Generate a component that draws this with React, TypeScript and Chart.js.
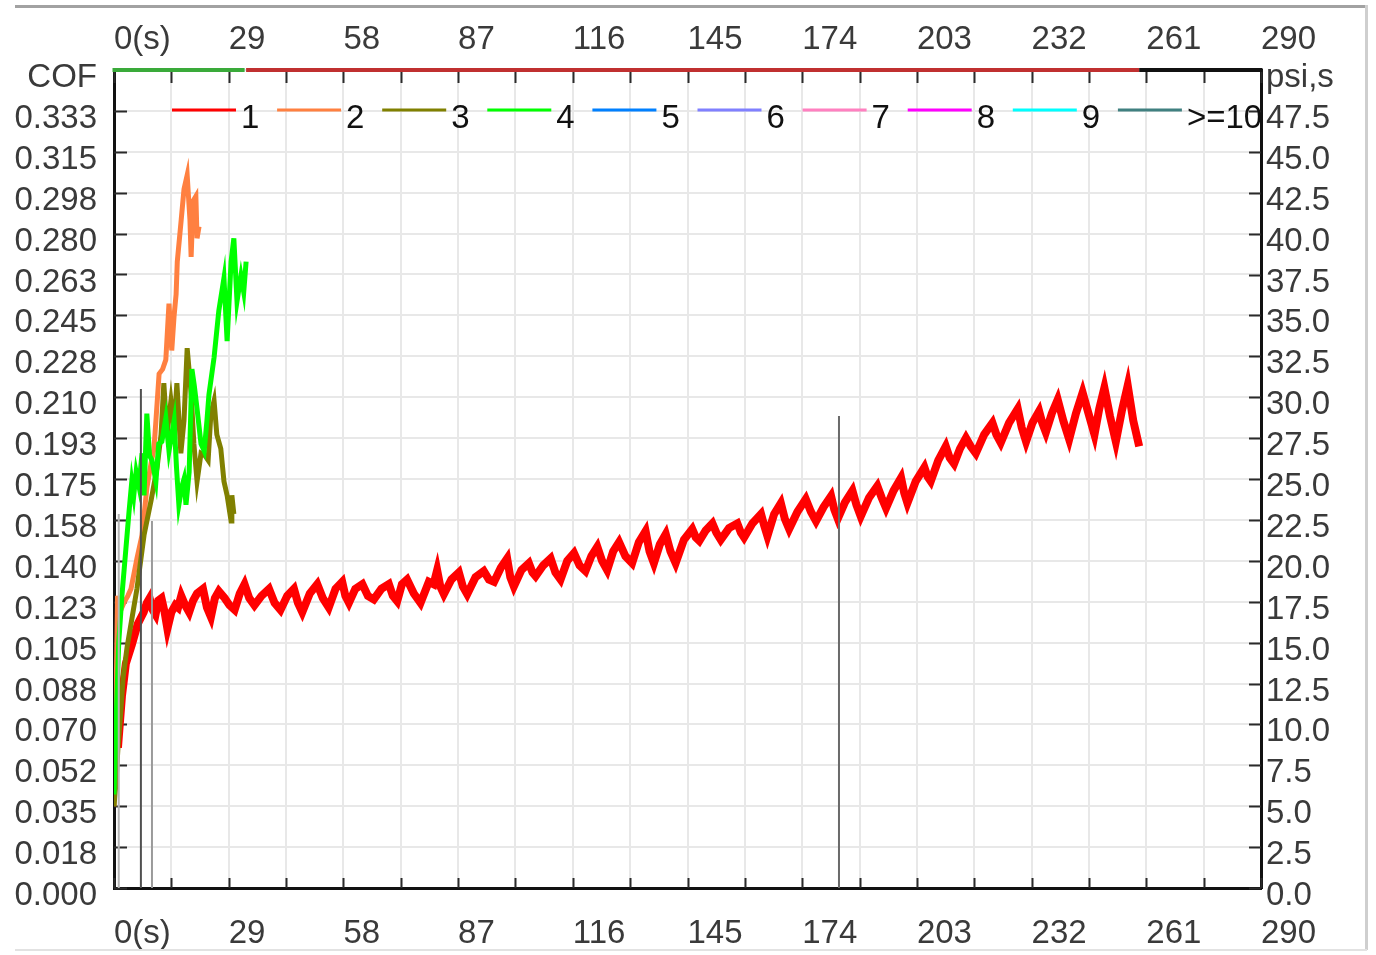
import { useEffect, useRef } from 'react';
import { Chart, registerables } from 'chart.js';

Chart.register(...registerables);

// ---------- axis tick labels ----------
const xTickLabels = ['0(s)', '', '29', '', '58', '', '87', '', '116', '', '145', '', '174', '', '203', '', '232', '', '261', '', '290'];
const xStep = 14.5;
const cofTickLabels = ['0.000', '0.018', '0.035', '0.052', '0.070', '0.088', '0.105', '0.123', '0.140', '0.158', '0.175', '0.193', '0.210', '0.228', '0.245', '0.263', '0.280', '0.298', '0.315', '0.333', 'COF'];
const cofStep = 0.0175;
const psiTickLabels = ['0.0', '2.5', '5.0', '7.5', '10.0', '12.5', '15.0', '17.5', '20.0', '22.5', '25.0', '27.5', '30.0', '32.5', '35.0', '37.5', '40.0', '42.5', '45.0', '47.5', 'psi,s'];
const psiStep = 2.5;

// ---------- legend ----------
const legendLabels = ['1', '2', '3', '4', '5', '6', '7', '8', '9', '>=10'];
const legendColors = ['#ff0000', '#ff8040', '#808000', '#00ff00', '#0080ff', '#8080ff', '#ff80c0', '#ff00ff', '#00ffff', '#408080'];

// ---------- series 1 (red) ----------
const s1Time = [1.0, 2.0, 3.0, 4.5, 6.0, 7.5, 8.3, 9.0, 9.8, 10.5, 11.2, 12.0, 12.8, 13.5, 14.5, 15.5, 16.2, 17.0, 18.0, 19.0, 20.0, 21.0, 22.5, 23.5, 24.5, 25.5, 26.5, 28.0, 29.2, 30.5, 31.8, 33.0, 34.2, 35.5, 37.3, 39.2, 40.6, 42.1, 43.8, 45.5, 46.5, 47.6, 49.5, 51.4, 52.8, 54.3, 56.0, 57.7, 58.5, 59.4, 61.0, 62.8, 64.2, 65.7, 67.6, 69.5, 70.5, 71.6, 72.8, 74.1, 75.8, 77.5, 79.6, 80.8, 81.7, 82.5, 83.4, 85.3, 87.2, 88.2, 89.3, 91.4, 93.5, 94.8, 96.1, 97.8, 99.4, 100.2, 101.1, 103.0, 104.9, 105.8, 106.6, 108.5, 110.4, 111.6, 112.9, 114.6, 116.3, 117.7, 119.2, 120.7, 122.2, 123.4, 124.7, 126.2, 127.7, 129.3, 131.0, 132.7, 134.4, 135.4, 136.5, 138.0, 139.5, 140.7, 142.0, 144.1, 146.2, 147.1, 148.0, 149.6, 151.3, 152.3, 153.4, 155.5, 157.6, 158.5, 159.3, 161.4, 163.6, 164.4, 165.2, 166.9, 168.6, 169.6, 170.7, 172.8, 174.9, 176.2, 177.5, 179.4, 181.3, 182.1, 183.0, 184.8, 186.7, 187.7, 188.8, 190.9, 193.0, 194.1, 195.2, 197.1, 199.0, 199.8, 200.6, 202.7, 204.9, 205.7, 206.5, 208.4, 210.3, 211.3, 212.4, 213.9, 215.4, 216.6, 217.9, 220.0, 222.1, 223.1, 224.2, 226.3, 228.5, 229.5, 230.6, 232.2, 233.9, 234.7, 235.6, 237.1, 238.6, 240.0, 241.5, 243.2, 244.9, 246.4, 247.9, 249.1, 250.4, 251.8, 253.3, 254.8, 256.3, 257.7, 259.2];
const s1Cof = [0.060, 0.082, 0.096, 0.104, 0.113, 0.118, 0.122, 0.124, 0.119, 0.117, 0.123, 0.124, 0.118, 0.111, 0.118, 0.121, 0.120, 0.125, 0.121, 0.118, 0.123, 0.126, 0.128, 0.120, 0.116, 0.124, 0.127, 0.124, 0.121, 0.119, 0.126, 0.130, 0.124, 0.121, 0.125, 0.128, 0.122, 0.119, 0.125, 0.128, 0.122, 0.118, 0.126, 0.130, 0.124, 0.120, 0.128, 0.131, 0.125, 0.122, 0.128, 0.130, 0.125, 0.1235, 0.128, 0.130, 0.125, 0.1227, 0.130, 0.132, 0.126, 0.122, 0.131, 0.130, 0.136, 0.129, 0.1257, 0.132, 0.135, 0.129, 0.1257, 0.133, 0.1356, 0.132, 0.131, 0.137, 0.141, 0.133, 0.129, 0.136, 0.139, 0.135, 0.1334, 0.138, 0.141, 0.135, 0.132, 0.140, 0.1433, 0.138, 0.1356, 0.142, 0.146, 0.140, 0.136, 0.144, 0.148, 0.142, 0.139, 0.148, 0.1527, 0.144, 0.139, 0.147, 0.1514, 0.144, 0.139, 0.149, 0.1536, 0.150, 0.1485, 0.153, 0.156, 0.152, 0.149, 0.154, 0.156, 0.152, 0.150, 0.156, 0.160, 0.155, 0.1506, 0.160, 0.1647, 0.158, 0.1536, 0.161, 0.1664, 0.161, 0.157, 0.163, 0.1677, 0.162, 0.158, 0.165, 0.170, 0.164, 0.159, 0.167, 0.172, 0.167, 0.1626, 0.170, 0.1755, 0.169, 0.1647, 0.174, 0.180, 0.176, 0.174, 0.183, 0.189, 0.184, 0.1815, 0.188, 0.1926, 0.189, 0.186, 0.194, 0.199, 0.194, 0.1905, 0.199, 0.205, 0.197, 0.191, 0.199, 0.204, 0.199, 0.195, 0.203, 0.209, 0.200, 0.192, 0.203, 0.212, 0.203, 0.194, 0.205, 0.214, 0.202, 0.191, 0.204, 0.215, 0.200, 0.189];

// ---------- series 2 (orange) ----------
const s2Time = [0.0, 0.3, 0.6, 0.9, 1.5, 2.5, 3.5, 4.3, 5.0, 5.8, 7.1, 8.3, 9.4, 10.1, 10.6, 11.4, 12.3, 13.1, 13.9, 14.6, 15.2, 15.7, 16.0, 17.0, 17.7, 18.5, 19.2, 19.5, 20.0, 20.7, 21.0, 21.5];
const s2Cof = [0.035, 0.070, 0.090, 0.125, 0.118, 0.122, 0.125, 0.128, 0.134, 0.141, 0.151, 0.171, 0.182, 0.188, 0.200, 0.220, 0.222, 0.226, 0.250, 0.230, 0.245, 0.254, 0.268, 0.286, 0.299, 0.305, 0.286, 0.270, 0.294, 0.296, 0.278, 0.283];

// ---------- series 3 (olive) ----------
const s3Time = [0.0, 0.5, 1.0, 1.7, 2.3, 3.3, 4.5, 5.8, 7.6, 9.4, 10.9, 11.9, 12.6, 13.4, 14.4, 15.2, 15.9, 16.9, 17.7, 18.5, 19.5, 20.2, 21.0, 22.0, 23.0, 23.8, 24.5, 25.3, 26.0, 27.0, 27.8, 28.6, 29.6, 29.8, 30.3];
const s3Cof = [0.035, 0.045, 0.060, 0.075, 0.090, 0.103, 0.115, 0.128, 0.151, 0.166, 0.180, 0.194, 0.216, 0.194, 0.2085, 0.197, 0.216, 0.186, 0.200, 0.231, 0.2115, 0.190, 0.174, 0.186, 0.185, 0.183, 0.203, 0.2085, 0.194, 0.188, 0.174, 0.168, 0.157, 0.168, 0.160];

// ---------- series 4 (green) ----------
const s4Time = [0.0, 0.6, 1.2, 2.0, 3.0, 3.8, 4.5, 5.0, 5.6, 6.3, 7.1, 7.6, 8.3, 9.0, 9.6, 10.6, 11.3, 12.1, 13.1, 13.9, 15.2, 15.8, 16.4, 17.2, 17.7, 18.2, 19.0, 19.7, 20.3, 21.0, 22.0, 22.8, 23.5, 24.0, 25.3, 26.5, 27.8, 28.6, 29.6, 30.3, 31.1, 32.1, 32.8, 33.4];
const s4Cof = [0.040, 0.075, 0.105, 0.125, 0.145, 0.161, 0.174, 0.168, 0.178, 0.172, 0.186, 0.168, 0.203, 0.185, 0.183, 0.174, 0.190, 0.191, 0.201, 0.187, 0.200, 0.180, 0.164, 0.172, 0.175, 0.164, 0.178, 0.222, 0.215, 0.205, 0.190, 0.187, 0.200, 0.211, 0.227, 0.247, 0.261, 0.234, 0.268, 0.278, 0.251, 0.262, 0.255, 0.268];

// ---------- vertical event markers ----------
const markerTime = [1.2, 6.8, 9.6, 183.3];
const markerTop = [0.160, 0.2135, 0.157, 0.202];
const markerColors = ['#b4b4b4', '#505050', '#9a9a9a', '#6a6a6a'];

// ---------- top time stripe ----------
const stripeEnd = [33.4, 259.2, 290];
const stripeColors = ['#3aaa3a', '#c03030', '#111111'];

const FONT = 'Liberation Sans';
const FONT_SIZE = 33;

const framePlugin = {
  id: 'frameDecor',
  beforeDatasetsDraw(chart: any) {
    const { ctx, chartArea: a, scales } = chart;
    ctx.save();
    ctx.strokeStyle = '#2a2a2a';
    ctx.lineWidth = 2;
    ctx.beginPath();
    scales.x.ticks.forEach((_t: any, i: number) => {
      const px = Math.round(scales.x.getPixelForTick(i)) + 0.5;
      ctx.moveTo(px, a.bottom);
      ctx.lineTo(px, a.bottom - 10);
      ctx.moveTo(px, a.top);
      ctx.lineTo(px, a.top + 13);
    });
    scales.y.ticks.forEach((_t: any, i: number) => {
      const py = Math.round(scales.y.getPixelForTick(i)) + 0.5;
      ctx.moveTo(a.left, py);
      ctx.lineTo(a.left + 13, py);
    });
    scales.y2.ticks.forEach((_t: any, i: number) => {
      const py = Math.round(scales.y2.getPixelForTick(i)) + 0.5;
      ctx.moveTo(a.right, py);
      ctx.lineTo(a.right - 12, py);
    });
    ctx.stroke();
    let start = 0;
    stripeEnd.forEach((end, i) => {
      const x0 = scales.x.getPixelForValue(start);
      const x1 = scales.x.getPixelForValue(end);
      ctx.fillStyle = stripeColors[i];
      ctx.fillRect(x0 - (i === 0 ? 1.5 : 0), a.top - 2, x1 - x0 + (i === stripeEnd.length - 1 ? 1.5 : 0), 4);
      start = end;
    });
    ctx.restore();
  },
  afterDatasetsDraw(chart: any) {
    const { ctx, chartArea: a } = chart;
    ctx.save();
    ctx.font = `${FONT_SIZE}px "${FONT}"`;
    ctx.textBaseline = 'middle';
    ctx.textAlign = 'left';
    const lineY = a.top + 40;
    legendLabels.forEach((lab, i) => {
      const x0 = a.left + 58 + i * 105.1;
      ctx.strokeStyle = legendColors[i];
      ctx.lineWidth = 3;
      ctx.beginPath();
      ctx.moveTo(x0, lineY);
      ctx.lineTo(x0 + 64, lineY);
      ctx.stroke();
      ctx.fillStyle = '#111';
      ctx.fillText(lab, x0 + 69, lineY + 9);
    });
    ctx.restore();
  },
};

export default function App() {
  const ref = useRef<HTMLCanvasElement | null>(null);

  useEffect(() => {
    if (!ref.current) return;
    const font = { family: FONT, size: FONT_SIZE };
    const tickColor = '#3a3a3a';
    const pts = (ts: number[], vs: number[]) => ts.map((t, i) => ({ x: t, y: vs[i] }));

    const markerSets = markerTime.map((t, i) => ({
      label: 'marker' + i,
      data: [{ x: t, y: 0 }, { x: t, y: markerTop[i] }],
      borderColor: markerColors[i],
      borderWidth: 2,
      pointRadius: 0,
      order: 0,
    }));

    const chart = new Chart(ref.current, {
      type: 'line',
      data: {
        datasets: [
          ...markerSets,
          { label: '4', data: pts(s4Time, s4Cof), borderColor: '#00ff00', borderWidth: 5, pointRadius: 0, order: 1 },
          { label: '3', data: pts(s3Time, s3Cof), borderColor: '#808000', borderWidth: 5, pointRadius: 0, order: 2 },
          { label: '2', data: pts(s2Time, s2Cof), borderColor: '#ff8040', borderWidth: 5, pointRadius: 0, order: 3 },
          { label: '1', data: pts(s1Time, s1Cof), borderColor: '#ff0000', borderWidth: 8, pointRadius: 0, order: 4 },
        ] as any,
      },
      options: {
        animation: false,
        responsive: false,
        devicePixelRatio: 1,
        layout: { padding: 0 },
        plugins: { legend: { display: false }, tooltip: { enabled: false } },
        elements: { line: { tension: 0 } },
        scales: {
          x: {
            type: 'linear',
            position: 'bottom',
            min: 0,
            max: 290,
            afterBuildTicks: (s: any) => { s.ticks = xTickLabels.map((_l, i) => ({ value: i * xStep })); },
            afterFit: (s: any) => { s.height = 67; },
            ticks: { autoSkip: false, maxRotation: 0, minRotation: 0, align: 'start', padding: 26, color: tickColor, font, callback: (_v: any, i: number) => xTickLabels[i] },
            grid: { color: '#e8e8e8', lineWidth: 2, drawTicks: false },
            border: { display: true, color: '#111', width: 3 },
          },
          x2: {
            type: 'linear',
            position: 'top',
            min: 0,
            max: 290,
            afterBuildTicks: (s: any) => { s.ticks = xTickLabels.map((_l, i) => ({ value: i * xStep })); },
            afterFit: (s: any) => { s.height = 70; },
            ticks: { autoSkip: false, maxRotation: 0, minRotation: 0, align: 'start', padding: 10, color: tickColor, font, callback: (_v: any, i: number) => xTickLabels[i] },
            grid: { display: false, drawTicks: false },
            border: { display: false },
          },
          y: {
            type: 'linear',
            position: 'left',
            min: 0,
            max: 0.35,
            afterBuildTicks: (s: any) => { s.ticks = cofTickLabels.map((_l, i) => ({ value: i * cofStep })); },
            afterFit: (s: any) => { s.width = 114; },
            ticks: { autoSkip: false, padding: 17, labelOffset: 8, color: tickColor, font, callback: (_v: any, i: number) => cofTickLabels[i] },
            grid: { color: '#e8e8e8', lineWidth: 2, drawTicks: false },
            border: { display: true, color: '#111', width: 3 },
          },
          y2: {
            type: 'linear',
            position: 'right',
            min: 0,
            max: 50,
            afterBuildTicks: (s: any) => { s.ticks = psiTickLabels.map((_l, i) => ({ value: i * psiStep })); },
            afterFit: (s: any) => { s.width = 115; },
            ticks: { autoSkip: false, padding: 5, labelOffset: 8, color: tickColor, font, callback: (_v: any, i: number) => psiTickLabels[i] },
            grid: { display: false, drawTicks: false },
            border: { display: true, color: '#111', width: 3 },
          },
        },
      } as any,
      plugins: [framePlugin],
    });
    return () => chart.destroy();
  }, []);

  return (
    <div style={{ position: 'absolute', left: 0, top: 0, width: 1376, height: 955, background: '#fff', overflow: 'hidden' }}>
      <canvas ref={ref} width={1376} height={955} style={{ position: 'absolute', left: 0, top: 0 }} />
      <div style={{ position: 'absolute', left: 15, top: 5, width: 1352, height: 3, background: '#a2a2a2' }} />
      <div style={{ position: 'absolute', left: 1365, top: 5, width: 3, height: 945, background: '#cfcfcf' }} />
      <div style={{ position: 'absolute', left: 15, top: 949, width: 1352, height: 2, background: '#e2e2e2' }} />
    </div>
  );
}
